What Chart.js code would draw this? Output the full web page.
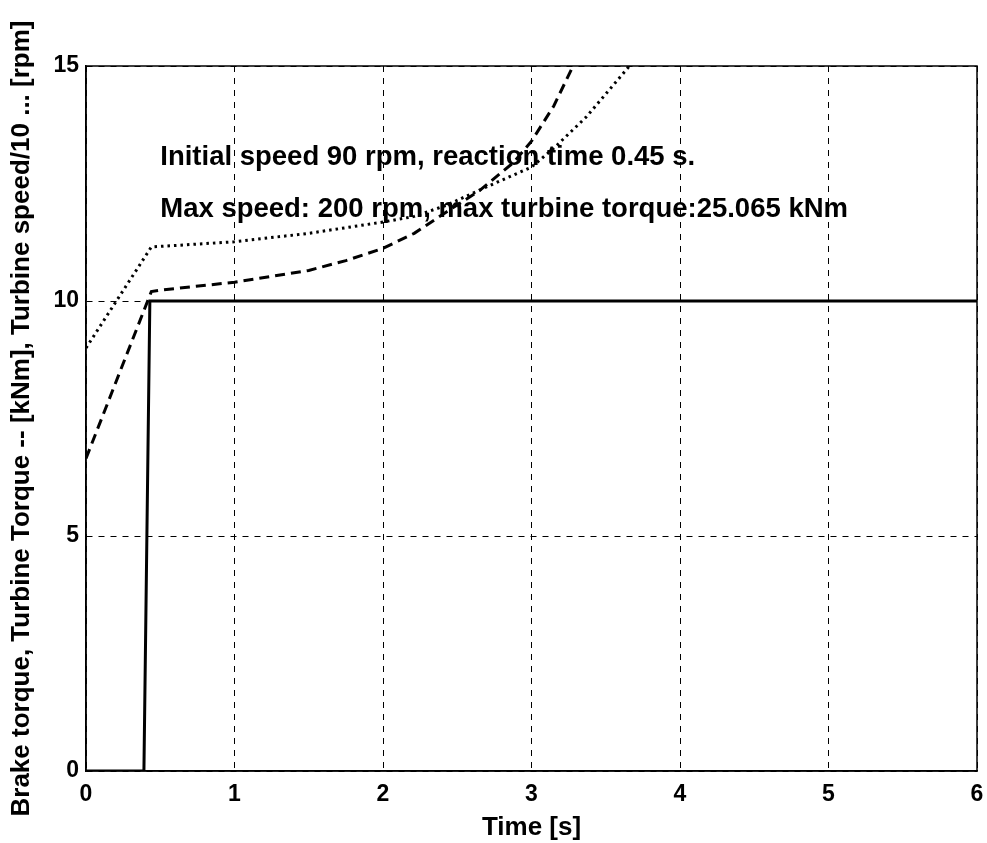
<!DOCTYPE html>
<html>
<head>
<meta charset="utf-8">
<script src="https://cdn.jsdelivr.net/npm/chart.js@4"></script>
<style>
  body { margin: 0; background: #fff; }
  #chart { display: block; }
</style>
</head>
<body>
<canvas id="chart" width="987" height="843"></canvas>
<script>
// brake torque (solid)
const timeBrake = [0, 0.39, 0.43, 6];
const brakeTorque = [0, 0, 10, 10];

// turbine torque (dashed)
const timeTorque = [0, 0.44, 0.5, 1, 1.5, 1.75, 2, 2.21, 2.43, 2.65, 2.88, 3, 3.15, 3.28, 3.4];
const turbineTorque = [6.65, 10.2, 10.23, 10.4, 10.65, 10.86, 11.12, 11.44, 11.9, 12.35, 12.95, 13.4, 14.15, 15, 15.7];

// turbine speed / 10 (dotted)
const timeSpeed = [0, 0.44, 1, 1.5, 2, 2.21, 2.43, 2.65, 3, 3.15, 3.37, 3.66, 3.8];
const turbineSpeed = [9.0, 11.15, 11.26, 11.44, 11.68, 11.8, 12.04, 12.36, 12.85, 13.25, 13.92, 15, 15.55];

const xTicks = [0, 1, 2, 3, 4, 5, 6];
const yTicks = [0, 5, 10, 15];

const noteLines = [
    'Initial speed 90 rpm, reaction time 0.45 s.',
    'Max speed: 200 rpm, max turbine torque:25.065 kNm'
];

const FONT = '"Liberation Sans", Arial, sans-serif';

function toPoints(xs, ys) {
    return xs.map((x, i) => ({ x: x, y: ys[i] }));
}

// frame around the plot + text notes
const framePlugin = {
    id: 'frame',
    afterDatasetsDraw(chart) {
        const ctx = chart.ctx;
        const xs = chart.scales.x;
        const ys = chart.scales.y;
        ctx.save();
        ctx.fillStyle = '#000';
        ctx.font = 'bold 27.5px ' + FONT;
        ctx.textBaseline = 'middle';
        ctx.fillText(noteLines[0], xs.getPixelForValue(0.5), ys.getPixelForValue(13.05));
        ctx.fillText(noteLines[1], xs.getPixelForValue(0.5), ys.getPixelForValue(11.95));
        ctx.restore();
    },
    afterDraw(chart) {
        const a = chart.chartArea;
        const ctx = chart.ctx;
        ctx.save();
        ctx.strokeStyle = '#000';
        ctx.lineWidth = 1.5;
        ctx.setLineDash([]);
        ctx.strokeRect(a.left, a.top, a.right - a.left, a.bottom - a.top);
        ctx.restore();
    }
};

new Chart(document.getElementById('chart'), {
    type: 'line',
    data: {
        datasets: [
            {
                label: 'Brake torque',
                data: toPoints(timeBrake, brakeTorque),
                borderColor: '#000',
                borderWidth: 3,
                pointRadius: 0,
                tension: 0
            },
            {
                label: 'Turbine torque',
                data: toPoints(timeTorque, turbineTorque),
                borderColor: '#000',
                borderWidth: 3,
                borderDash: [10, 6],
                pointRadius: 0,
                tension: 0
            },
            {
                label: 'Turbine speed/10',
                data: toPoints(timeSpeed, turbineSpeed),
                borderColor: '#000',
                borderWidth: 3,
                borderDash: [2.5, 4],
                pointRadius: 0,
                tension: 0
            }
        ]
    },
    options: {
        responsive: false,
        animation: false,
        layout: { padding: { top: 66, right: 10, left: 0, bottom: 0 } },
        plugins: {
            legend: { display: false },
            tooltip: { enabled: false }
        },
        scales: {
            x: {
                type: 'linear',
                min: 0,
                max: 6,
                afterBuildTicks: (s) => { s.ticks = xTicks.map(v => ({ value: v })); },
                afterFit: (s) => { s.height = 72; s.paddingLeft = 0; s.paddingRight = 0; },
                ticks: {
                    color: '#000',
                    font: { family: FONT, size: 23, weight: 'bold' },
                    padding: 10,
                    maxRotation: 0
                },
                grid: { color: '#000', lineWidth: 1, drawTicks: false },
                border: { display: true, color: '#000', width: 1.5, dash: [6, 6] },
                title: {
                    display: true,
                    text: 'Time [s]',
                    color: '#000',
                    font: { family: FONT, size: 26, weight: 'bold' },
                    padding: { top: 0, bottom: 0 }
                }
            },
            y: {
                min: 0,
                max: 15,
                afterBuildTicks: (s) => { s.ticks = yTicks.map(v => ({ value: v })); },
                afterFit: (s) => { s.width = 86; },
                ticks: {
                    color: '#000',
                    font: { family: FONT, size: 23, weight: 'bold' },
                    padding: 7
                },
                grid: { color: '#000', lineWidth: 1, drawTicks: false },
                border: { display: true, color: '#000', width: 1.5, dash: [6, 6] },
                title: {
                    display: true,
                    text: 'Brake torque, Turbine Torque -- [kNm], Turbine speed/10 ... [rpm]',
                    color: '#000',
                    font: { family: FONT, size: 26, weight: 'bold' },
                    padding: { top: 6, bottom: 0 }
                }
            }
        }
    },
    plugins: [framePlugin]
});
</script>
</body>
</html>
